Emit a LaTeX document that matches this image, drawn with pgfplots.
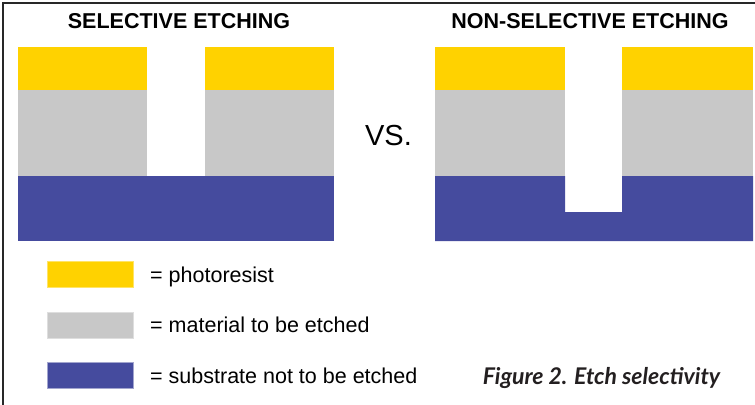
\documentclass[border=0pt]{standalone}
\usepackage{pgfplots}
\pgfplotsset{compat=1.18}
\usepackage{fontspec}
\setmainfont{Liberation Sans}
\newfontfamily\capfont{Lato}
\definecolor{resist}{RGB}{255,210,0}
\definecolor{material}{RGB}{200,200,200}
\definecolor{substrate}{RGB}{69,75,158}
\definecolor{frame}{RGB}{40,40,40}
\definecolor{captxt}{RGB}{35,31,32}
\begin{document}
\begin{tikzpicture}
\begin{axis}[
  at={(0,0)}, anchor=south west,
  scale only axis, width=755bp, height=405bp,
  xmin=0, xmax=755, ymin=0, ymax=405, y dir=reverse,
  hide axis, clip=false,
]
% frame (top and left)
\addplot[draw=frame, line width=1.5bp] coordinates {(3,405) (3,3) (755,3)};
% ---- selective etching ----
\addplot[fill=resist, draw=none] coordinates {(18,47) (147,47) (147,90) (18,90)} --cycle;
\addplot[fill=resist, draw=none] coordinates {(205,47) (334,47) (334,90) (205,90)} --cycle;
\addplot[fill=material, draw=none] coordinates {(18,90) (147,90) (147,176) (18,176)} --cycle;
\addplot[fill=material, draw=none] coordinates {(205,90) (334,90) (334,176) (205,176)} --cycle;
\addplot[fill=substrate, draw=none] coordinates {(18,176) (334,176) (334,241) (18,241)} --cycle;
% ---- non-selective etching ----
\addplot[fill=resist, draw=none] coordinates {(435,47) (565,47) (565,90) (435,90)} --cycle;
\addplot[fill=resist, draw=none] coordinates {(622,47) (753,47) (753,90) (622,90)} --cycle;
\addplot[fill=material, draw=none] coordinates {(435,90) (565,90) (565,176) (435,176)} --cycle;
\addplot[fill=material, draw=none] coordinates {(622,90) (753,90) (753,176) (622,176)} --cycle;
\addplot[fill=substrate, draw=none] coordinates {(435,176) (565,176) (565,212) (622,212) (622,176) (753,176) (753,241) (435,241)} --cycle;
% ---- legend swatches ----
\addplot[fill=resist, draw=resist!60!white, line width=0.5bp] coordinates {(47,261) (133,261) (133,287) (47,287)} --cycle;
\addplot[fill=material, draw=material!60!white, line width=0.5bp] coordinates {(47,312) (133,312) (133,338) (47,338)} --cycle;
\addplot[fill=substrate, draw=substrate!50!white, line width=0.5bp] coordinates {(47,362) (133,362) (133,388) (47,388)} --cycle;
% ---- text ----
\node[anchor=base, inner sep=0, font=\fontsize{21.5bp}{24bp}\selectfont\bfseries] at (axis cs:179,28.5) {SELECTIVE ETCHING};
\node[anchor=base, inner sep=0, font=\fontsize{21.5bp}{24bp}\selectfont\bfseries] at (axis cs:590,28.5) {NON-SELECTIVE ETCHING};
\node[anchor=base, inner sep=0, font=\fontsize{29bp}{30bp}\selectfont] at (axis cs:388.5,145) {VS.};
\node[anchor=base west, inner sep=0, font=\fontsize{21.5bp}{24bp}\selectfont] at (axis cs:150,282) {= photoresist};
\node[anchor=base west, inner sep=0, font=\fontsize{21.5bp}{24bp}\selectfont] at (axis cs:150,332) {= material to be etched};
\node[anchor=base west, inner sep=0, font=\fontsize{21.5bp}{24bp}\selectfont] at (axis cs:150,383) {= substrate not to be etched};
\node[anchor=base, inner sep=0, text=captxt, font=\capfont\fontsize{23bp}{26bp}\selectfont\bfseries\itshape] at (axis cs:601.5,384) {Figure 2. Etch selectivity};
\end{axis}
\pgfresetboundingbox
\path[use as bounding box] (0,0) rectangle (755bp,405bp);
\end{tikzpicture}
\end{document}
